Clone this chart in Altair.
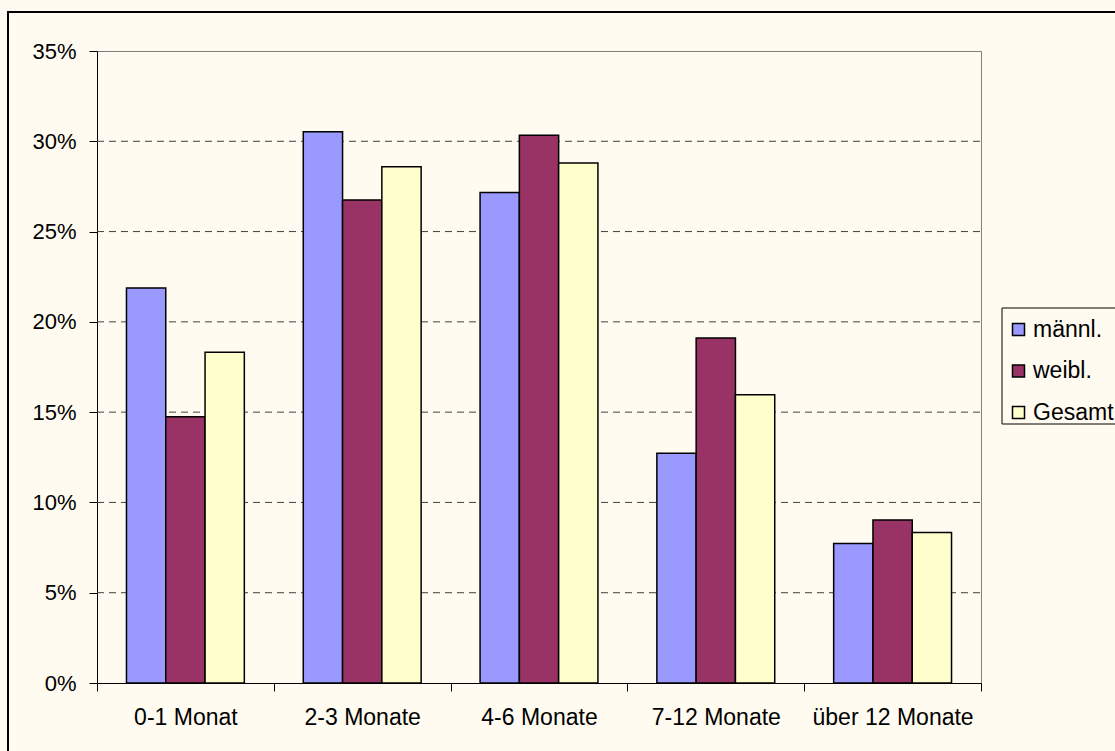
import altair as alt
import pandas as pd

categories = ["0-1 Monat", "2-3 Monate", "4-6 Monate", "7-12 Monate", "über 12 Monate"]
series = ["männl.", "weibl.", "Gesamt"]
maennl = [0.2187, 0.3053, 0.2717, 0.1272, 0.0772]
weibl = [0.1475, 0.2675, 0.3033, 0.1911, 0.0903]
gesamt = [0.1831, 0.2859, 0.2880, 0.1597, 0.0833]
colors = ["#9999FF", "#993366", "#FFFFCC"]
y_ticks = [0, 0.05, 0.10, 0.15, 0.20, 0.25, 0.30, 0.35]
grid_values = [0.05, 0.10, 0.15, 0.20, 0.25, 0.30]

BG = "#FFFBF0"
FONT = "Liberation Sans"

rows = []
for i, c in enumerate(categories):
    for s, vals in zip(series, [maennl, weibl, gesamt]):
        rows.append({"Kategorie": c, "Gruppe": s, "Anteil": vals[i]})
df = pd.DataFrame(rows)

one = pd.DataFrame({"k": [0]})

y_scale = alt.Scale(domain=[0, 0.35], nice=False)
y_axis = alt.Axis(
    title=None, values=y_ticks, format=".0%",
    labelFont=FONT, labelFontSize=22, labelColor="black",
    labelPadding=13, tickSize=8, tickColor="black", domainColor="black",
    grid=False,
)

frame = alt.Chart(one).mark_rect(
    fill=None, stroke="black", strokeWidth=2
).encode(
    x=alt.value(-89), x2=alt.value(1400), y=alt.value(-39), y2=alt.value(1000)
)

legend_box = alt.Chart(one).mark_rect(
    fill=BG, stroke="black", strokeWidth=1
).encode(
    x=alt.value(905), x2=alt.value(1400), y=alt.value(257), y2=alt.value(373)
)

grid = alt.Chart(pd.DataFrame({"Anteil": grid_values})).mark_rule(
    color="#404040", strokeWidth=1, strokeDash=[7, 5]
).encode(
    y=alt.Y("Anteil:Q", scale=y_scale, axis=y_axis),
    x=alt.value(0), x2=alt.value(884),
)

bars = alt.Chart(df).mark_bar(stroke="black", strokeWidth=1.5).encode(
    x=alt.X(
        "Kategorie:N",
        sort=categories,
        scale=alt.Scale(paddingInner=0, paddingOuter=0),
        axis=alt.Axis(
            title=None, labelAngle=0, tickBand="extent", grid=False,
            labelFont=FONT, labelFontSize=23, labelColor="black",
            labelPadding=15, tickSize=8, tickColor="black", domainColor="black",
        ),
    ),
    xOffset=alt.XOffset(
        "Gruppe:N", sort=series,
        scale=alt.Scale(paddingInner=0, paddingOuter=0.75),
    ),
    y=alt.Y("Anteil:Q", scale=y_scale, axis=y_axis),
    color=alt.Color(
        "Gruppe:N", sort=series,
        scale=alt.Scale(domain=series, range=colors),
        legend=alt.Legend(
            title=None, orient="none", legendX=910, legendY=267,
            symbolType="square", symbolSize=144,
            symbolStrokeColor="black", symbolStrokeWidth=1.5,
            labelFont=FONT, labelFontSize=23, labelColor="black",
            padding=0, rowPadding=17.5, labelOffset=3,
        ),
    ),
)

chart = alt.layer(frame, legend_box, grid, bars).properties(
    width=884, height=632,
    autosize=alt.AutoSizeParams(type="none"),
    padding={"left": 97, "top": 51, "right": 134, "bottom": 68},
    background=BG,
).configure_view(stroke="#808080", strokeWidth=1)

chart.save("out.html", embed_options={"renderer": "svg", "actions": False})
